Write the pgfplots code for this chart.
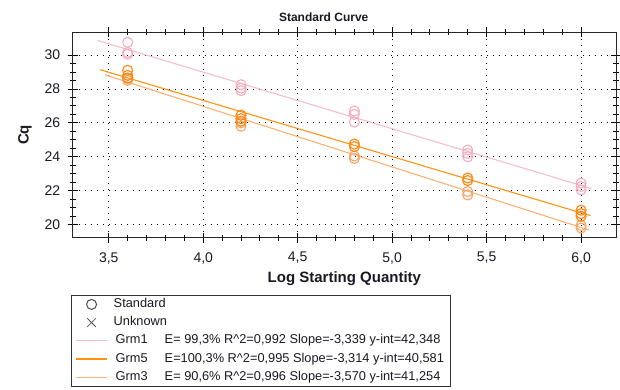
\documentclass[border=0pt]{standalone}
\usepackage{fontspec}
\setmainfont{Liberation Sans}
\usepackage{pgfplots}
\pgfplotsset{compat=1.18}
\definecolor{pinkL}{RGB}{247,190,202}
\definecolor{pinkM}{RGB}{245,172,188}
\definecolor{orgL}{RGB}{255,146,20}
\definecolor{orgM}{RGB}{250,140,30}
\definecolor{ltoL}{RGB}{250,178,115}
\definecolor{ltoM}{RGB}{246,165,105}
\definecolor{txt}{RGB}{25,25,35}
\pgfplotsset{
  markimg/.style={legend image code/.code={\draw[##1, mark repeat=2, mark phase=2] plot coordinates {(0pt,0pt) (15.5pt,0pt) (31pt,0pt)};}},
  lineimg/.style={legend image code/.code={\draw[draw=#1, line width=1.3pt] (0pt,0pt) -- (31pt,0pt);}},
}
\begin{document}
\begin{tikzpicture}
\path[use as bounding box] (0,0) rectangle (620pt,389pt);
\begin{axis}[
  at={(72.7pt,151.3pt)}, anchor=south west,
  width=543.3pt, height=205.4pt, scale only axis,
  xmin=3.309, xmax=6.185, ymin=19.23, ymax=31.34,
  xtick={3.5,4,4.5,5,5.5,6}, ytick={20,22,24,26,28,30},
  minor x tick num=4, minor y tick num=3,
  tick align=center, major tick length=10pt, minor tick length=6pt,
  every tick/.style={black, line width=0.9pt},
  axis line style={line width=1pt, black!85},
  grid=major,
  major grid style={black, dash pattern=on 1.2pt off 4.8pt, line width=0.9pt},
  /pgf/number format/assume math mode=true,
  xticklabel style={font=\fontsize{14}{16}\selectfont, text=txt, yshift=-6pt,
    /pgf/number format/.cd, use comma, fixed, fixed zerofill, precision=1},
  yticklabel style={font=\fontsize{14}{16}\selectfont, text=txt, xshift=-4pt},
  title={Standard Curve},
  title style={at={(axis description cs:0.462,1.0745)}, anchor=center, yshift=-6pt,
    font=\bfseries\fontsize{12}{14}\selectfont, text=txt},
  xlabel={Log Starting Quantity},
  xlabel style={at={(axis description cs:0.5,-0.197)}, anchor=center,
    font=\bfseries\fontsize{15}{17}\selectfont, text=txt},
  ylabel={Cq},
  ylabel style={at={(axis description cs:-0.088,0.5)}, anchor=center,
    font=\bfseries\fontsize{15}{17}\selectfont, text=txt},
  legend style={at={(axis description cs:-0.0031,-0.279)}, anchor=north west,
    draw=black!80, line width=0.8pt, font=\fontsize{12.8}{15}\selectfont,
    text=txt, row sep=2.2pt, inner xsep=4pt, inner ysep=1pt,
    nodes={inner xsep=2pt, inner ysep=2pt, text height=9pt, text depth=3pt},
    legend cell align=left},
]
% legend images
\addlegendimage{markimg, only marks, mark=o, mark size=5pt, color=black!70, mark options={line width=1pt}}
\addlegendentry{\hspace*{4pt}Standard}
\addlegendimage{markimg, only marks, mark=x, mark size=6pt, color=black!65, mark options={line width=0.8pt}}
\addlegendentry{\hspace*{4pt}Unknown}
\addlegendimage{lineimg=pinkL}
\addlegendentry{\hspace*{6pt}\makebox[49pt][l]{Grm1}E= 99,3\% R\textasciicircum 2=0,992 Slope=-3,339 y-int=42,348}
\addlegendimage{lineimg=orgL}
\addlegendentry{\hspace*{6pt}\makebox[49pt][l]{Grm5}E=100,3\% R\textasciicircum 2=0,995 Slope=-3,314 y-int=40,581}
\addlegendimage{lineimg=ltoL}
\addlegendentry{\hspace*{6pt}\makebox[49pt][l]{Grm3}E= 90,6\% R\textasciicircum 2=0,996 Slope=-3,570 y-int=41,254}

% regression lines
\addplot[forget plot, pinkL, line width=1.1pt] coordinates {(3.44,30.862) (6.055,22.130)};
\addplot[forget plot, ltoL, line width=1.1pt] coordinates {(3.48,28.830) (6.04,19.691)};
\addplot[forget plot, orgL, line width=1.1pt] coordinates {(3.455,29.131) (6.05,20.531)};

% standards
\addplot[forget plot, only marks, mark=o, mark size=5pt, pinkM, mark options={line width=1.1pt}] table {
x y
3.6 30.75
3.6 30.15
3.6 30.05
4.2 28.25
4.2 28.05
4.2 27.90
4.8 26.70
4.8 26.50
4.8 26.05
5.4 24.40
5.4 24.20
5.4 24.00
6.0 22.45
6.0 22.25
6.0 22.05
};
\addplot[forget plot, only marks, mark=o, mark size=5pt, ltoM, mark options={line width=1.1pt}] table {
x y
3.6 28.60
3.6 28.50
4.2 26.00
4.2 25.80
4.8 24.05
4.8 23.90
5.4 21.95
5.4 21.75
6.0 19.95
6.0 19.80
};
\addplot[forget plot, only marks, mark=o, mark size=5pt, orgM, mark options={line width=1.2pt}] table {
x y
3.6 29.10
3.6 28.80
3.6 28.65
4.2 26.45
4.2 26.25
4.2 26.10
4.8 24.75
4.8 24.60
5.4 22.75
5.4 22.60
6.0 20.85
6.0 20.65
6.0 20.50
};
\end{axis}
\end{tikzpicture}
\end{document}
